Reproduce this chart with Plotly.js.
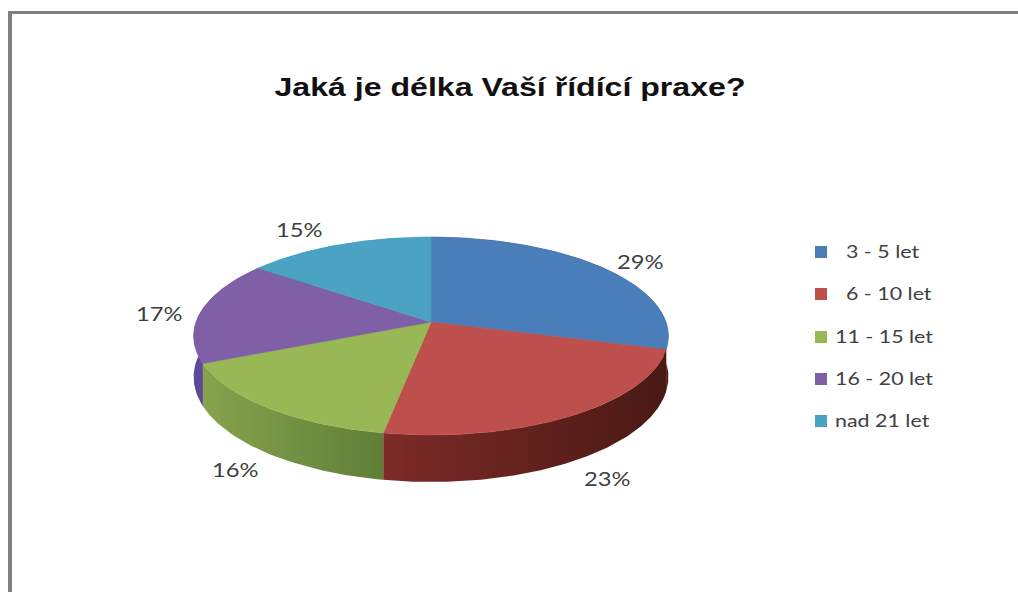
<!DOCTYPE html>
<html><head><meta charset="utf-8">
<script src="https://cdn.plot.ly/plotly-3.0.1.min.js"></script>
<style>html,body{margin:0;padding:0;background:#fff}#c{width:1018px;height:592px}
.gtitle{transform-box:fill-box;transform-origin:center;transform:scaleX(1.235)}
.annotation-text{transform-box:fill-box;transform-origin:center;transform:scaleX(1.25)}
.textpoint text{transform-box:fill-box;transform-origin:left center;transform:translateY(1.5px) scaleX(1.26)}
</style>
</head><body><div id="c"></div>
<script>
const titleText = 'Jaká je délka Vaší řídící praxe?';
const categories = ['3 - 5 let', '6 - 10 let', '11 - 15 let', '16 - 20 let', 'nad 21 let'];
const values = [29.4, 23.4, 15.6, 16.9, 14.7];
const topColors = ['#4a7ebb', '#bd4f4c', '#98b855', '#7f5fa5', '#4aa3c3'];
const wallStops = [
  ['#4a1914', '#4a1914'],
  ['#7d2b28', '#4a1914'],
  ['#86a34c', '#5f7f38'],
  ['#5f4a96', '#54438a'],
  ['#2f7d99', '#2f7d99']
];
const labelX = [640, 607, 235, 159, 299];
const labelY = [261, 478, 469, 313, 229];
const legendX = 821;
const legendY = [252, 294, 337, 379, 421];
const legendPad = ['\u00a0\u00a0\u00a0', '\u00a0\u00a0\u00a0', '\u00a0', '\u00a0', '\u00a0'];

// perspective projection of a tilted disc
const cx = 431, cy = 322, A = 235, B = 97, k = -0.1415;
function proj(frac, drop) {
  const th = 2 * Math.PI * frac, u = Math.sin(th), v = -Math.cos(th), w = 1 + k * v;
  const x = cx + A * u / w, y = cy + B * v / w;
  return drop ? [x, y + 40 + 7 * v] : [x, y];
}
const total = values.reduce((a, b) => a + b, 0);
let acc = 0;
const slices = values.map(val => { const s = acc / total; acc += val; return [s, acc / total]; });
const arc = (s, e, drop) => {
  const n = Math.max(2, Math.ceil((e - s) * 400)), pts = [];
  for (let i = 0; i <= n; i++) pts.push(proj(s + (e - s) * i / n, drop));
  return pts;
};
const base = {mode: 'lines', fill: 'toself', hoverinfo: 'skip', showlegend: false, type: 'scatter'};
const traces = [];
slices.forEach(([s, e], i) => {
  const pts = arc(s, e, false).concat(arc(s, e, true).reverse());
  pts.push(pts[0]);
  traces.push(Object.assign({}, base, {
    x: pts.map(p => p[0]), y: pts.map(p => p[1]),
    line: {width: 0, color: wallStops[i][0]},
    fillcolor: wallStops[i][0],
    fillgradient: {type: 'horizontal', colorscale: [[0, wallStops[i][0]], [1, wallStops[i][1]]]}
  }));
});
slices.forEach(([s, e], i) => {
  const pts = [[cx, cy]].concat(arc(s, e, false));
  pts.push(pts[0]);
  traces.push(Object.assign({}, base, {
    x: pts.map(p => p[0]), y: pts.map(p => p[1]),
    line: {width: 0.6, color: topColors[i]}, fillcolor: topColors[i]
  }));
});
categories.forEach((c, i) => {
  traces.push({
    type: 'scatter', mode: 'markers+text', x: [legendX], y: [legendY[i]],
    text: [legendPad[i] + c], textposition: 'middle right',
    textfont: {family: 'Lato, sans-serif', size: 17, color: '#404040'},
    marker: {symbol: 'square', size: 12, color: topColors[i]},
    name: c, showlegend: false, hoverinfo: 'skip'
  });
});
const ax = {visible: false, fixedrange: true};
Plotly.newPlot('c', traces, {
  width: 1018, height: 592, margin: {l: 0, r: 0, t: 0, b: 0},
  paper_bgcolor: '#fff', plot_bgcolor: '#fff', showlegend: false,
  xaxis: Object.assign({range: [0, 1018]}, ax),
  yaxis: Object.assign({range: [592, 0]}, ax),
  title: {text: '<b>' + titleText + '</b>', x: 510 / 1018, xanchor: 'center', y: 1 - 87 / 592, yanchor: 'middle',
          font: {family: 'Liberation Sans, Arial, sans-serif', size: 26, color: '#111'}},
  annotations: values.map((val, i) => ({
    x: labelX[i], y: labelY[i], text: Math.round(val) + '%', showarrow: false, xanchor: 'center', yanchor: 'middle',
    font: {family: 'Lato, sans-serif', size: 19, color: '#404040'}
  })),
  shapes: [
    {type: 'rect', xref: 'x', yref: 'y', x0: 8, x1: 12, y0: 11, y1: 592, fillcolor: '#808080', line: {width: 0}},
    {type: 'rect', xref: 'x', yref: 'y', x0: 8, x1: 1018, y0: 11, y1: 14, fillcolor: '#808080', line: {width: 0}}
  ]
}, {displayModeBar: false, staticPlot: true});
</script></body></html>
